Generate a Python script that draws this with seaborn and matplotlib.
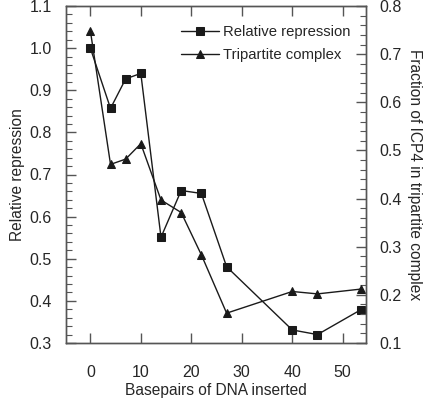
import matplotlib
matplotlib.use("Agg")
import matplotlib.pyplot as plt
import seaborn as sns
import pandas as pd
from matplotlib.ticker import MultipleLocator

sns.set_style("ticks")
plt.rcParams['font.family'] = ['Liberation Sans', 'DejaVu Sans']

basepairs = [0, 4, 7, 10, 14, 18, 22, 27, 40, 45, 53.6]
relative_repression = [1.0, 0.857, 0.927, 0.940, 0.551, 0.662, 0.655, 0.481, 0.331, 0.320, 0.379]
tripartite_fraction = [0.749, 0.471, 0.482, 0.514, 0.397, 0.371, 0.283, 0.162, 0.207, 0.202, 0.212]

x_ticks = [0, 10, 20, 30, 40, 50]
left_ticks = [0.3, 0.4, 0.5, 0.6, 0.7, 0.8, 0.9, 1.0, 1.1]
right_ticks = [0.1, 0.2, 0.3, 0.4, 0.5, 0.6, 0.7, 0.8]

df = pd.DataFrame({"bp": basepairs, "rep": relative_repression, "tri": tripartite_fraction})

fig = plt.figure(figsize=(4.26, 4.0), dpi=100)
ax = fig.add_axes([0.154, 0.1425, 0.705, 0.8425])
ax2 = ax.twinx()

col = "#1a1a1a"
sns.lineplot(data=df, x="bp", y="rep", ax=ax, color=col, lw=1.0, marker="s",
             markersize=6, markeredgecolor=col, markerfacecolor=col, label="Relative repression", legend=False)
sns.lineplot(data=df, x="bp", y="tri", ax=ax2, color=col, lw=1.0, marker="^",
             markersize=6, markeredgecolor=col, markerfacecolor=col, label="Tripartite complex", legend=False)

ax.set_xlim(-4.9, 54.6)
ax.set_ylim(0.3, 1.1)
ax2.set_ylim(0.1, 0.8)

ax.set_xticks(x_ticks)
ax.set_xticklabels([str(t) for t in x_ticks])
ax.set_yticks(left_ticks)
ax.set_yticklabels([f"{t:.1f}" for t in left_ticks])
ax2.set_yticks(right_ticks)
ax2.set_yticklabels([f"{t:.1f}" for t in right_ticks])
ax.yaxis.set_minor_locator(MultipleLocator(0.02))
ax2.yaxis.set_minor_locator(MultipleLocator(0.02))

spine_col = "#555555"
for a in (ax, ax2):
    for s in a.spines.values():
        s.set_color(spine_col)
        s.set_linewidth(1.0)
        s.set_visible(True)

fs = 11.5
ax.tick_params(axis='x', which='major', direction='in', length=7, width=1, color=spine_col,
               top=True, bottom=True, labelsize=fs, pad=16)
ax.tick_params(axis='y', which='major', direction='in', length=7, width=1, color=spine_col,
               left=True, right=False, labelsize=fs, pad=10)
ax.tick_params(axis='y', which='minor', direction='in', length=4, width=0.8, color=spine_col, left=True, right=False)
ax2.tick_params(axis='y', which='major', direction='in', length=7, width=1, color=spine_col,
                right=True, left=False, labelsize=fs, pad=10)
ax2.tick_params(axis='y', which='minor', direction='in', length=4, width=0.8, color=spine_col, right=True, left=False)

lfs = 11.2
ax.set_xlabel("Basepairs of DNA inserted", fontsize=lfs, labelpad=2)
ax.set_ylabel("Relative repression", fontsize=lfs, labelpad=3)
ax2.set_ylabel("Fraction of ICP4 in tripartite complex", fontsize=lfs, rotation=270, labelpad=14)

h1, l1 = ax.get_legend_handles_labels()
h2, l2 = ax2.get_legend_handles_labels()
ax2.legend(h1 + h2, l1 + l2, loc="upper right", bbox_to_anchor=(0.967, 0.961), borderaxespad=0,
           frameon=False, fontsize=10.7, handlelength=2.55, handletextpad=0.25, labelspacing=0.6)

fig.savefig("out.png", dpi=100)
